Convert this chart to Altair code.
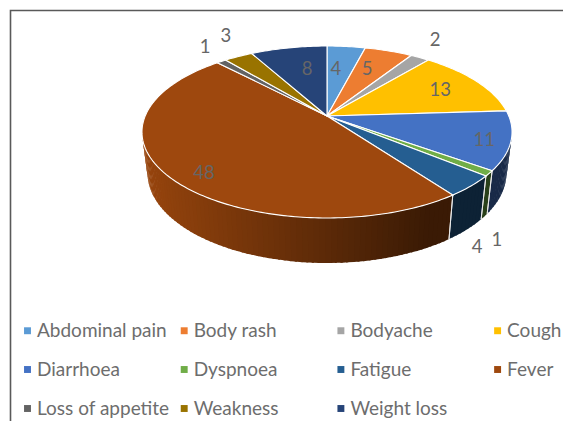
import math
import altair as alt

symptoms = ["Abdominal pain", "Body rash", "Bodyache", "Cough", "Diarrhoea", "Dyspnoea",
            "Fatigue", "Fever", "Loss of appetite", "Weakness", "Weight loss"]
counts = [4, 5, 2, 13, 11, 1, 4, 48, 1, 3, 8]
colors = ["#5B9BD5", "#ED7D31", "#A5A5A5", "#FFC000", "#4472C4", "#70AD47",
          "#255E91", "#9E480E", "#636363", "#997300", "#264478"]
label_radius = [0.63, 0.68, 1.315, 0.74, 0.865, 1.38, 1.377, 0.855, 1.264, 1.356, 0.642]
label_turn = [-2.2, -2.1, -3, 0.3, 2.3, 20.2, 15.6, -5.8, 2.5, 4.2, 3.4]

# perspective model of the disc, in plot pixels (page offset 8)
W, H = 555, 413
CX, CY, RX, RY, K = 319.0, 108.0, 181.8, 83.0, 0.186
TOTAL = sum(counts)


def top(t, r=1.0):
    a = math.radians(t)
    X, Y = r * math.sin(a), r * math.cos(a)
    w = 1 + K * Y
    return CX + RX * X / w, CY - RY * Y / w


def bottom(t):
    x, y = top(t)
    return CX + 0.97 * (x - CX), y + 40 - 5 * math.cos(math.radians(t))


def shade(col, x):
    f = max(0.37, min(0.95, 0.95 - 0.00205 * (x - 139)))
    rgb = [int(col[i:i + 2], 16) for i in (1, 3, 5)]
    return "#" + "".join(f"{int(c * f):02x}" for c in rgb)


def feature(coords, kind="Polygon", **props):
    c = [coords] if kind == "Polygon" else coords
    return {"type": "Feature", "geometry": {"type": kind, "coordinates": c}, "properties": props}


def geo(features):
    return alt.InlineData(values={"type": "FeatureCollection", "features": features},
                          format=alt.DataFormat(type="json", property="features"))


tops, walls, seps, labels = [], [], [], []
cum = 0
T0, T1 = 100.7, 259.3
for name, n, col, rad, turn in zip(symptoms, counts, colors, label_radius, label_turn):
    a0, a1 = cum / TOTAL * 360, (cum + n) / TOTAL * 360
    cum += n
    steps = max(4, int((a1 - a0) / 1.0))
    ring = [top(a0 + (a1 - a0) * i / steps) for i in range(steps + 1)]
    apex = (CX, CY)
    tops.append(feature([list(apex)] + [list(p) for p in ring] + [list(apex)], name=name))
    s0, s1 = max(a0, T0), min(a1, T1)
    if s1 > s0:
        m = max(1, int((s1 - s0) / 1.5))
        for i in range(m):
            u, v = s0 + (s1 - s0) * i / m, s0 + (s1 - s0) * (i + 1) / m
            e = min(s1, v + 0.6)
            p = [top(u), top(v), top(e), bottom(e), bottom(v), bottom(u), top(u)]
            fill = shade(col, (top(u)[0] + top(v)[0]) / 2)
            walls.append(feature([list(q) for q in p], fill=fill, order=len(walls)))
    for a in (a0, a1):
        if T0 < a < T1:
            seps.append(feature([list(top(a)), list(bottom(a))], kind="LineString"))
    mid = (a0 + a1) / 2 + turn
    lx, ly = top(mid, rad)
    labels.append({"lon": lx, "lat": ly, "txt": str(n)})

# the projection fits this extent to the view, so one data unit stays one pixel
extent = [feature([[0, 0], [W, 0], [W, H], [0, H], [0, 0]])]
frame = [feature([[2.5, H], [2.5, 2.5], [W, 2.5]], kind="LineString")]
proj = dict(type="identity")

extent_layer = alt.Chart(geo(extent)).mark_geoshape(filled=False, strokeOpacity=0, opacity=0).project(**proj)
frame_layer = alt.Chart(geo(frame)).mark_geoshape(filled=False, stroke="#595959", strokeWidth=1.6).project(**proj)
wall_layer = alt.Chart(geo(walls)).mark_geoshape(strokeWidth=0).encode(
    color=alt.Color("properties.fill:N", scale=None),
).project(**proj)
sep_layer = alt.Chart(geo(seps)).mark_geoshape(filled=False, stroke="#e8e8e8", strokeWidth=1).project(**proj)
top_layer = alt.Chart(geo(tops)).mark_geoshape(stroke="white", strokeWidth=1.1).encode(
    color=alt.Color(
        "properties.name:N",
        sort=None,
        scale=alt.Scale(domain=symptoms, range=colors),
        legend=alt.Legend(
            title=None, orient="none", direction="horizontal", legendX=10, legendY=313, columns=4,
            gridAlign="all", columnPadding=4.7, rowPadding=19,
            symbolType="square", symbolSize=48, symbolStrokeWidth=0,
            labelFont="Lato", labelFontSize=19, labelColor="#6d6d6d", labelOffset=0,
            labelLimit=200,
        ),
    )
).project(**proj)
text_layer = alt.Chart(alt.Data(values=labels)).mark_text(
    font="Lato", fontSize=18.5, color="#666666", align="center", baseline="middle"
).encode(longitude="lon:Q", latitude="lat:Q", text="txt:N").project(**proj)

chart = alt.layer(extent_layer, frame_layer, wall_layer, sep_layer, top_layer, text_layer).properties(
    width=W, height=H, padding=0, autosize=alt.AutoSizeParams(type="none"),
    background="white",
).configure_view(stroke=None)
chart.save("out.html", embed_options={"renderer": "svg", "actions": False})
